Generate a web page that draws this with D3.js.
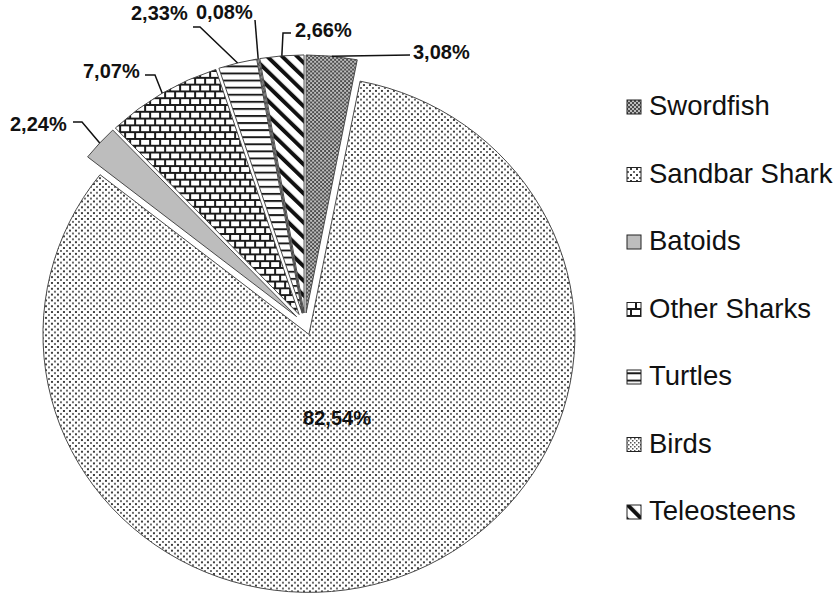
<!DOCTYPE html>
<html>
<head>
<meta charset="utf-8">
<script src="https://cdn.jsdelivr.net/npm/d3@7"></script>
<style>
  body { margin: 0; background: #fff; }
  svg { display: block; }
  text { font-family: "Liberation Sans", Arial, sans-serif; fill: #111; }
</style>
</head>
<body>
<script>
// Bycatch composition by group (share of total, %)
const categories = ["Swordfish", "Sandbar Shark", "Batoids", "Other Sharks", "Turtles", "Birds", "Teleosteens"];
const shares = [3.08, 82.54, 2.24, 7.07, 2.33, 0.08, 2.66];
const fillIds = ["pSword", "pSandbar", "pBatoids", "pBrick", "pTurtles", "pBirds", "pTeleo"];

// Where each percentage label sits and the elbow points of its leader line
const labelLayout = {
  "Swordfish":     { x: 413, y: 59, anchor: "start",  elbows: [[410, 55]] },
  "Sandbar Shark": { x: 337, y: 425, anchor: "middle", elbows: null },
  "Batoids":       { x: 10,  y: 131, anchor: "start",  elbows: [[82, 122], [73, 122]] },
  "Other Sharks":  { x: 83,  y: 78,  anchor: "start",  elbows: [[155, 75], [145, 75]] },
  "Turtles":       { x: 131, y: 20,  anchor: "start",  elbows: [[200, 27], [193, 27]] },
  "Birds":         { x: 196, y: 19,  anchor: "start",  elbows: [[255, 20]] },
  "Teleosteens":   { x: 295, y: 37,  anchor: "start",  elbows: [[283, 33], [291, 33]] }
};

const W = 835, H = 596;
const cx = 305, cy = 324;      // pie centre
const R = 266;                 // radius
const squash = 0.97;           // vertical aspect of the pie
const explode = 11.4;          // distance each slice is pulled out

const pct = d3.formatLocale({ decimal: ",", thousands: ".", grouping: [3], currency: ["", ""] }).format(".2f");

const svg = d3.select("body").append("svg").attr("width", W).attr("height", H);
const defs = svg.append("defs");

// ---- fill patterns ----
function pattern(id, w, h, build, transform) {
  const p = defs.append("pattern").attr("id", id)
    .attr("patternUnits", "userSpaceOnUse").attr("width", w).attr("height", h);
  if (transform) p.attr("patternTransform", transform);
  build(p);
}
pattern("pSword", 4, 4, p => {
  p.append("rect").attr("width", 4).attr("height", 4).attr("fill", "#4c4c4c");
  p.append("rect").attr("x", 0).attr("y", 0).attr("width", 2).attr("height", 2).attr("fill", "#bdbdbd");
  p.append("rect").attr("x", 2).attr("y", 2).attr("width", 2).attr("height", 2).attr("fill", "#bdbdbd");
});
pattern("pSandbar", 6, 6, p => {
  p.append("rect").attr("width", 6).attr("height", 6).attr("fill", "#fff");
  p.append("rect").attr("x", 0).attr("y", 0).attr("width", 2).attr("height", 2).attr("fill", "#3e3e3e");
  p.append("rect").attr("x", 3).attr("y", 3).attr("width", 2).attr("height", 2).attr("fill", "#6a6a6a");
});
pattern("pBatoids", 4, 4, p => {
  p.append("rect").attr("width", 4).attr("height", 4).attr("fill", "#bdbdbd");
});
pattern("pBrick", 10, 14, p => {
  p.append("rect").attr("width", 10).attr("height", 14).attr("fill", "#fff");
  p.append("rect").attr("x", 0).attr("y", 0).attr("width", 10).attr("height", 2).attr("fill", "#1a1a1a");
  p.append("rect").attr("x", 0).attr("y", 7).attr("width", 10).attr("height", 2).attr("fill", "#1a1a1a");
  p.append("rect").attr("x", 0).attr("y", 0).attr("width", 2).attr("height", 7).attr("fill", "#1a1a1a");
  p.append("rect").attr("x", 5).attr("y", 7).attr("width", 2).attr("height", 7).attr("fill", "#1a1a1a");
});
pattern("pTurtles", 8, 7.3, p => {
  p.append("rect").attr("width", 8).attr("height", 7.3).attr("fill", "#fff");
  p.append("rect").attr("x", 0).attr("y", 0).attr("width", 8).attr("height", 2).attr("fill", "#1a1a1a");
});
pattern("pBirds", 4, 4, p => {
  p.append("rect").attr("width", 4).attr("height", 4).attr("fill", "#fff");
  p.append("rect").attr("x", 0).attr("y", 0).attr("width", 1.5).attr("height", 1.5).attr("fill", "#555");
  p.append("rect").attr("x", 2).attr("y", 2).attr("width", 1.5).attr("height", 1.5).attr("fill", "#555");
});
pattern("pTeleo", 10.6, 10.6, p => {
  p.append("rect").attr("width", 10.6).attr("height", 10.6).attr("fill", "#fff");
  p.append("rect").attr("x", 0).attr("y", 0).attr("width", 4).attr("height", 10.6).attr("fill", "#111");
}, "rotate(-45)");

// ---- pie ----
const slices = categories.map((c, i) => ({ name: c, value: shares[i], fill: fillIds[i] }));
const pie = d3.pie().sort(null).value(d => d.value);
const arcs = pie(slices);
const arc = d3.arc().innerRadius(0).outerRadius(R);

const gPie = svg.append("g").attr("transform", `translate(${cx},${cy}) scale(1,${squash})`);
gPie.selectAll("path").data(arcs).join("path")
  .attr("transform", d => {
    const m = (d.startAngle + d.endAngle) / 2;
    return `translate(${explode * Math.sin(m)},${-explode * Math.cos(m)})`;
  })
  .attr("d", arc)
  .attr("fill", d => `url(#${d.data.fill})`)
  .attr("stroke", "#4a4a4a")
  .attr("stroke-width", 1)
  .attr("vector-effect", "non-scaling-stroke");

// outer-arc point of a slice at its middle angle, in page coordinates
function outerPoint(d) {
  const m = (d.startAngle + d.endAngle) / 2;
  const r = explode + R;
  return [cx + r * Math.sin(m), cy - r * Math.cos(m) * squash];
}

// ---- leader lines and labels ----
const gLab = svg.append("g");
arcs.forEach(d => {
  const L = labelLayout[d.data.name];
  if (L.elbows) {
    const pts = [outerPoint(d), ...L.elbows];
    gLab.append("path")
      .attr("d", d3.line()(pts))
      .attr("fill", "none").attr("stroke", "#111").attr("stroke-width", 1.5);
  }
  gLab.append("text")
    .attr("x", L.x).attr("y", L.y)
    .attr("text-anchor", L.anchor)
    .attr("font-size", 20).attr("font-weight", "bold")
    .text(pct(d.data.value) + "%");
});

// ---- legend ----
const legendX = 627, legendTop = 115, legendStep = 67.5, box = 14;
const gLeg = svg.append("g");
slices.forEach((s, i) => {
  const base = legendTop + i * legendStep;
  gLeg.append("rect")
    .attr("x", legendX).attr("y", base - box - 1)
    .attr("width", box).attr("height", box)
    .attr("fill", `url(#${s.fill})`)
    .attr("stroke", "#222").attr("stroke-width", 1);
  gLeg.append("text")
    .attr("x", legendX + box + 8).attr("y", base)
    .attr("font-size", 27.5)
    .text(s.name);
});
</script>
</body>
</html>
